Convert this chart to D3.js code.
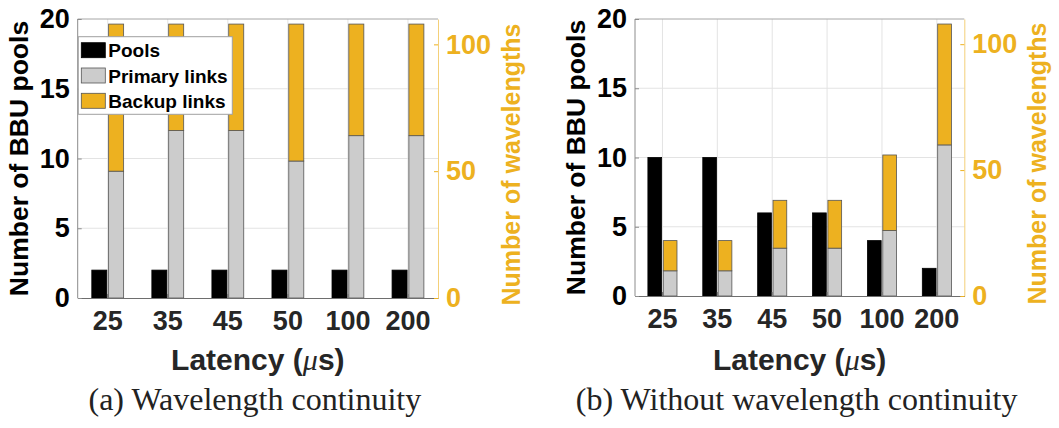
<!DOCTYPE html>
<html>
<head>
<meta charset="utf-8">
<script src="https://cdn.jsdelivr.net/npm/d3@7.9.0/dist/d3.min.js"></script>
<style>
  body { margin: 0; background: #fff; }
  svg { display: block; }
  text { font-family: "Liberation Sans", Arial, sans-serif; font-weight: bold; }
  .caption { font-family: "Liberation Serif", "DejaVu Serif", serif; font-weight: normal; }
</style>
</head>
<body>
<svg id="chart" width="1059" height="428"></svg>
<script>
const latencies = ['25', '35', '45', '50', '100', '200'];

// (a) wavelength continuity
const poolsA = [2, 2, 2, 2, 2, 2];
const primaryA = [50, 66, 66, 54, 64, 64];
const backupA = [58, 42, 42, 54, 44, 44];

// (b) without wavelength continuity
const poolsB = [10, 10, 6, 6, 4, 2];
const primaryB = [10, 10, 19, 19, 26, 60];
const backupB = [12, 12, 19, 19, 30, 48];

const leftTicks = [0, 5, 10, 15, 20];
const rightTicks = [0, 50, 100];
const legendLabels = ['Pools', 'Primary links', 'Backup links'];

const GOLD = '#EDB120';
const GRAY = '#CCCCCC';
const svg = d3.select('#chart');

function drawPanel(opt) {
  const { x0, x1, y0, y1, pools, primary, backup, caption, legend } = opt;
  const g = svg.append('g');

  const x = d3.scaleBand().domain(latencies).range([x0, x1]).padding(0);
  const yL = d3.scaleLinear().domain([0, 20]).range([y1, y0]);
  const yR = d3.scaleLinear().domain([0, 110]).range([y1, y0]);
  const bw = x.bandwidth();
  const cx = d => x(d) + bw / 2;

  // grid
  g.selectAll('.hgrid').data(leftTicks.slice(1, -1)).join('line')
    .attr('x1', x0).attr('x2', x1)
    .attr('y1', d => yL(d)).attr('y2', d => yL(d))
    .attr('stroke', '#e3e3e3').attr('stroke-width', 1);
  g.selectAll('.vgrid').data(latencies).join('line')
    .attr('x1', cx).attr('x2', cx)
    .attr('y1', y0).attr('y2', y1)
    .attr('stroke', '#e3e3e3').attr('stroke-width', 1);

  // pool bars (left axis)
  g.selectAll('.pool').data(latencies).join('rect')
    .attr('x', d => cx(d) - bw * 0.265)
    .attr('width', bw * 0.25)
    .attr('y', (d, i) => yL(pools[i]))
    .attr('height', (d, i) => y1 - yL(pools[i]))
    .attr('fill', '#000').attr('stroke', '#000').attr('stroke-width', 0.8);

  // stacked wavelength bars (right axis)
  g.selectAll('.prim').data(latencies).join('rect')
    .attr('x', d => cx(d) + bw * 0.015)
    .attr('width', bw * 0.25)
    .attr('y', (d, i) => yR(primary[i]))
    .attr('height', (d, i) => y1 - yR(primary[i]))
    .attr('fill', GRAY).attr('stroke', '#555').attr('stroke-width', 0.8);
  g.selectAll('.back').data(latencies).join('rect')
    .attr('x', d => cx(d) + bw * 0.015)
    .attr('width', bw * 0.25)
    .attr('y', (d, i) => yR(primary[i] + backup[i]))
    .attr('height', (d, i) => yR(primary[i]) - yR(primary[i] + backup[i]))
    .attr('fill', GOLD).attr('stroke', '#555').attr('stroke-width', 0.8);

  // box
  g.append('line').attr('x1', x0).attr('x2', x1).attr('y1', y0).attr('y2', y0)
    .attr('stroke', '#a6a6a6');
  g.append('line').attr('x1', x0).attr('x2', x0).attr('y1', y0).attr('y2', y1)
    .attr('stroke', '#8c8c8c');

  // bottom axis
  const xAxis = g.append('g').attr('transform', `translate(0,${y1})`)
    .call(d3.axisBottom(x).tickSize(-4).tickPadding(13).tickSizeOuter(0));
  xAxis.select('.domain').attr('stroke', '#6e6e6e');
  xAxis.selectAll('line').attr('stroke', '#6e6e6e');
  xAxis.selectAll('text').attr('font-size', 27).attr('fill', '#262626')
    .attr('font-family', '"Liberation Sans", Arial, sans-serif');

  // left axis
  const lAxis = g.append('g').attr('transform', `translate(${x0},0)`)
    .call(d3.axisLeft(yL).tickValues(leftTicks).tickSize(-4).tickPadding(8).tickSizeOuter(0));
  lAxis.select('.domain').remove();
  lAxis.selectAll('line').attr('stroke', '#8c8c8c');
  lAxis.selectAll('text').attr('font-size', 27).attr('fill', '#000')
    .attr('font-family', '"Liberation Sans", Arial, sans-serif');

  // right axis
  const rAxis = g.append('g').attr('transform', `translate(${x1},0)`)
    .call(d3.axisRight(yR).tickValues(rightTicks).tickSize(-4).tickPadding(8).tickSizeOuter(0));
  rAxis.select('.domain').attr('stroke', GOLD).attr('stroke-opacity', 0.6);
  rAxis.selectAll('line').attr('stroke', GOLD);
  rAxis.selectAll('text').attr('font-size', 27).attr('fill', GOLD)
    .attr('font-family', '"Liberation Sans", Arial, sans-serif');

  // axis titles
  const midY = (y0 + y1) / 2;
  g.append('text')
    .attr('transform', `translate(${x0 - 50},${midY}) rotate(-90)`)
    .attr('text-anchor', 'middle').attr('font-size', 26.5).attr('fill', '#000')
    .text('Number of BBU pools');
  g.append('text')
    .attr('transform', `translate(${x1 + 82},${midY + 6}) rotate(-90)`)
    .attr('text-anchor', 'middle').attr('font-size', 25).attr('fill', GOLD)
    .text('Number of wavelengths');
  const xl = g.append('text')
    .attr('x', (x0 + x1) / 2).attr('y', 370)
    .attr('text-anchor', 'middle').attr('font-size', 30).attr('fill', '#262626');
  xl.append('tspan').text('Latency (');
  xl.append('tspan').attr('font-style', 'italic').attr('font-family', '"Liberation Serif", serif')
    .attr('font-weight', 'normal').text('μ');
  xl.append('tspan').text('s)');

  g.append('text').attr('class', 'caption')
    .attr('x', (x0 + x1) / 2 - 3).attr('y', 410)
    .attr('text-anchor', 'middle').attr('font-size', 32).attr('fill', '#222')
    .text(caption);

  if (legend) {
    const lg = g.append('g').attr('transform', `translate(${x0 + 0.6},36.7)`);
    lg.append('rect').attr('width', 154).attr('height', 77.6)
      .attr('fill', '#fff').attr('stroke', '#a0a0a0');
    const fills = ['#000', GRAY, GOLD];
    const rows = lg.selectAll('.row').data(legendLabels).join('g')
      .attr('transform', (d, i) => `translate(3,${6 + i * 25.3})`);
    rows.append('rect').attr('width', 24).attr('height', 15)
      .attr('fill', (d, i) => fills[i])
      .attr('stroke', (d, i) => i === 0 ? '#000' : '#555').attr('stroke-width', 0.8);
    rows.append('text').attr('x', 27).attr('y', 14.5)
      .attr('font-size', 19).attr('fill', '#000').text(d => d);
  }
}

drawPanel({ x0: 77.7, x1: 438, y0: 19, y1: 298,
  pools: poolsA, primary: primaryA, backup: backupA,
  caption: '(a) Wavelength continuity', legend: true });
drawPanel({ x0: 635, x1: 964.3, y0: 19, y1: 296,
  pools: poolsB, primary: primaryB, backup: backupB,
  caption: '(b) Without wavelength continuity', legend: false });
</script>
</body>
</html>
